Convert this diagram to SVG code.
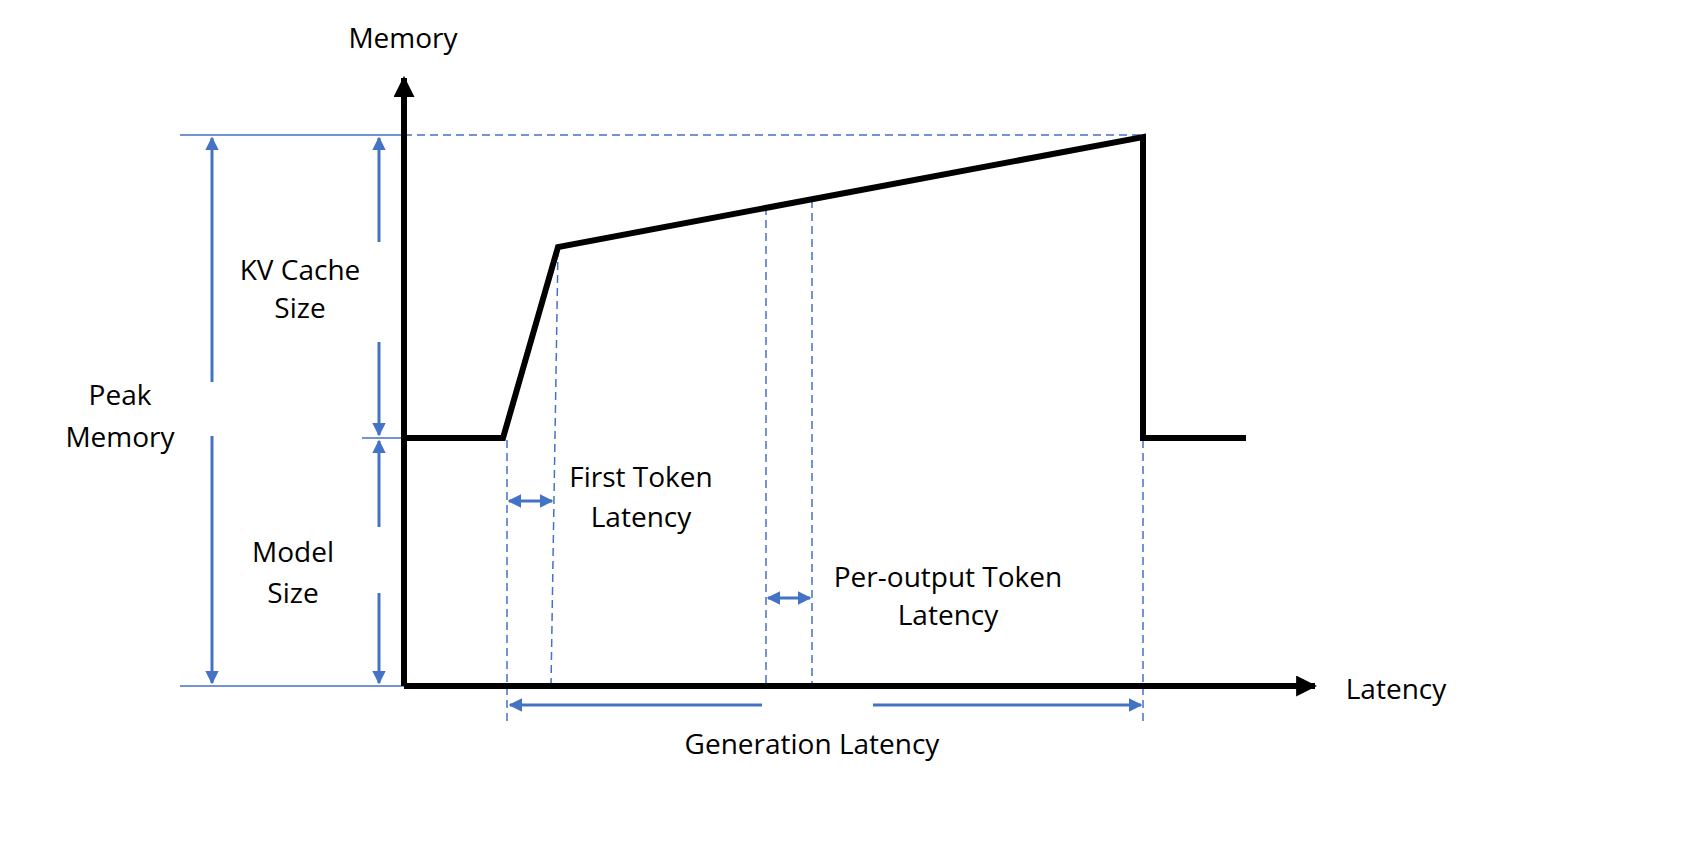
<svg xmlns="http://www.w3.org/2000/svg" width="1688" height="844" viewBox="0 0 1688 844">
<style>
text{font-family:"Open Sans","Liberation Sans",sans-serif;font-size:28px;fill:#000;text-anchor:middle}
.g{stroke:#4472C4;stroke-width:1.5;fill:none}
.d{stroke:#4472C4;stroke-width:1.5;fill:none;stroke-dasharray:8,5}
.a{stroke:#4472C4;stroke-width:3;fill:none}
.k{stroke:#000;stroke-width:6;fill:none}
</style>
<defs>
<marker id="bh" viewBox="0 0 10 10" refX="9" refY="5" markerWidth="4.5" markerHeight="4.5" orient="auto-start-reverse"><path d="M0,0L10,5L0,10z" fill="#4472C4"/></marker>
<marker id="kh" viewBox="0 0 10 10" refX="9" refY="5" markerWidth="3.5" markerHeight="3.5" orient="auto"><path d="M0,0L10,5L0,10z" fill="#000"/></marker>
</defs>
<g id="guides">
<path class="g" d="M180,135H404M362,438H404M180,686H404"/>
<path class="d" d="M404,135H1143M507,440V722M558,249L551,686M766,207V686M812,200V686M1143,440V722"/>
</g>
<g id="axes">
<path class="k" d="M404,686V78" marker-end="url(#kh)"/>
<path class="k" d="M404,686H1315" marker-end="url(#kh)"/>
</g>
<g id="curve"><path class="k" d="M404,438H503L558,247L1143,137V438H1246"/></g>
<g id="connectors">
<path class="a" d="M212,382V138" marker-end="url(#bh)"/>
<path class="a" d="M212,436V683" marker-end="url(#bh)"/>
<path class="a" d="M379,242V138" marker-end="url(#bh)"/>
<path class="a" d="M379,342V435" marker-end="url(#bh)"/>
<path class="a" d="M379,527V441" marker-end="url(#bh)"/>
<path class="a" d="M379,593V683" marker-end="url(#bh)"/>
<path class="a" d="M509,501H552" marker-start="url(#bh)" marker-end="url(#bh)"/>
<path class="a" d="M768,598H810" marker-start="url(#bh)" marker-end="url(#bh)"/>
<path class="a" d="M762,705H510" marker-end="url(#bh)"/>
<path class="a" d="M873,705H1141" marker-end="url(#bh)"/>
</g>
<g id="labels">
<text x="403" y="48">Memory</text>
<text x="1396" y="699">Latency</text>
<text x="300" y="280">KV Cache</text>
<text x="300" y="318">Size</text>
<text x="120" y="405">Peak</text>
<text x="120" y="447">Memory</text>
<text x="293" y="562">Model</text>
<text x="293" y="603">Size</text>
<text x="641" y="487">First Token</text>
<text x="641" y="527">Latency</text>
<text x="948" y="587">Per-output Token</text>
<text x="948" y="625">Latency</text>
<text x="812" y="754">Generation Latency</text>
</g>
</svg>
